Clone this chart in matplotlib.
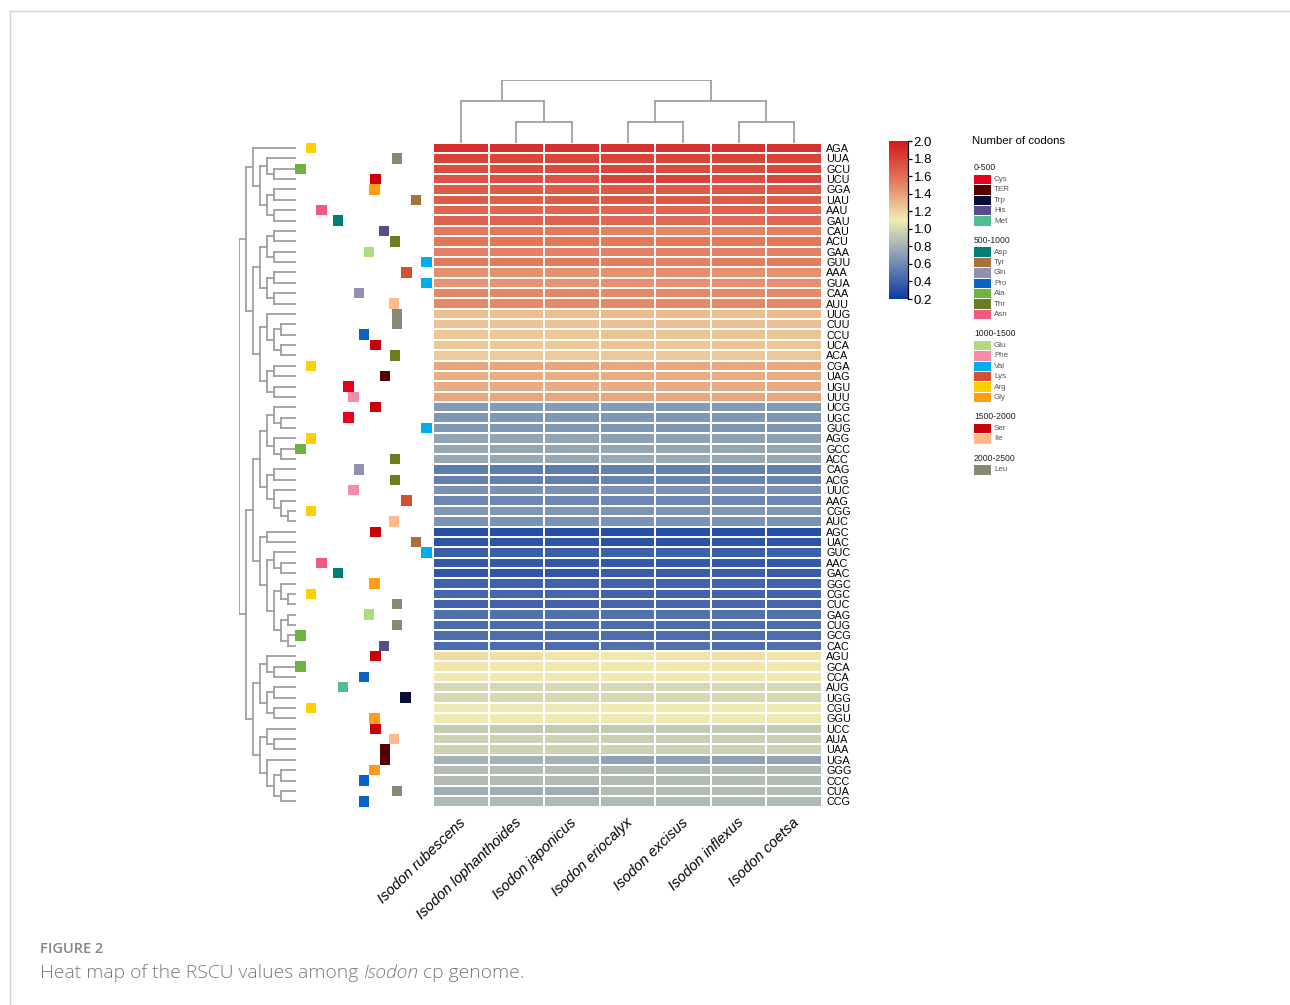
import matplotlib
matplotlib.use("Agg")
import matplotlib.pyplot as plt
import numpy as np
from matplotlib.colors import LinearSegmentedColormap, Normalize
from matplotlib.patches import Rectangle
from matplotlib.collections import LineCollection
from matplotlib.lines import Line2D

plt.rcParams['font.family'] = ['Liberation Sans', 'DejaVu Sans']

# ---------------- data ----------------
species = ["Isodon rubescens", "Isodon lophanthoides", "Isodon japonicus",
           "Isodon eriocalyx", "Isodon excisus", "Isodon inflexus", "Isodon coetsa"]

codons = ["AGA", "UUA", "GCU", "UCU", "GGA", "UAU", "AAU", "GAU", "CAU", "ACU",
          "GAA", "GUU", "AAA", "GUA", "CAA", "AUU", "UUG", "CUU", "CCU", "UCA",
          "ACA", "CGA", "UAG", "UGU", "UUU", "UCG", "UGC", "GUG", "AGG", "GCC",
          "ACC", "CAG", "ACG", "UUC", "AAG", "CGG", "AUC", "AGC", "UAC", "GUC",
          "AAC", "GAC", "GGC", "CGC", "CUC", "GAG", "CUG", "GCG", "CAC", "AGU",
          "GCA", "CCA", "AUG", "UGG", "CGU", "GGU", "UCC", "AUA", "UAA", "UGA",
          "GGG", "CCC", "CUA", "CCG"]

amino_acids = ["Arg", "Leu", "Ala", "Ser", "Gly", "Tyr", "Asn", "Asp", "His", "Thr",
               "Glu", "Val", "Lys", "Val", "Gln", "Ile", "Leu", "Leu", "Pro", "Ser",
               "Thr", "Arg", "TER", "Cys", "Phe", "Ser", "Cys", "Val", "Arg", "Ala",
               "Thr", "Gln", "Thr", "Phe", "Lys", "Arg", "Ile", "Ser", "Tyr", "Val",
               "Asn", "Asp", "Gly", "Arg", "Leu", "Glu", "Leu", "Ala", "His", "Ser",
               "Ala", "Pro", "Met", "Trp", "Arg", "Gly", "Ser", "Ile", "TER", "TER",
               "Gly", "Pro", "Leu", "Pro"]

rscu = [
    [1.90, 1.89, 1.89, 1.88, 1.88, 1.88, 1.88],
    [1.80, 1.79, 1.79, 1.80, 1.80, 1.80, 1.80],
    [1.76, 1.77, 1.77, 1.79, 1.77, 1.77, 1.78],
    [1.73, 1.74, 1.73, 1.80, 1.80, 1.76, 1.79],
    [1.68, 1.68, 1.68, 1.70, 1.69, 1.70, 1.70],
    [1.69, 1.67, 1.68, 1.70, 1.70, 1.68, 1.69],
    [1.64, 1.64, 1.64, 1.64, 1.64, 1.65, 1.64],
    [1.66, 1.65, 1.66, 1.63, 1.62, 1.62, 1.63],
    [1.55, 1.55, 1.55, 1.52, 1.50, 1.52, 1.53],
    [1.57, 1.57, 1.56, 1.55, 1.55, 1.55, 1.56],
    [1.52, 1.52, 1.52, 1.51, 1.51, 1.52, 1.51],
    [1.55, 1.55, 1.55, 1.53, 1.52, 1.53, 1.53],
    [1.46, 1.46, 1.46, 1.46, 1.47, 1.46, 1.46],
    [1.45, 1.45, 1.45, 1.46, 1.46, 1.46, 1.46],
    [1.50, 1.50, 1.50, 1.49, 1.49, 1.49, 1.49],
    [1.49, 1.49, 1.49, 1.49, 1.49, 1.49, 1.49],
    [1.28, 1.28, 1.28, 1.29, 1.29, 1.28, 1.29],
    [1.26, 1.26, 1.26, 1.27, 1.27, 1.27, 1.27],
    [1.25, 1.25, 1.25, 1.26, 1.26, 1.26, 1.26],
    [1.24, 1.24, 1.24, 1.26, 1.25, 1.26, 1.25],
    [1.23, 1.23, 1.23, 1.24, 1.24, 1.24, 1.24],
    [1.38, 1.38, 1.38, 1.37, 1.37, 1.37, 1.37],
    [1.35, 1.35, 1.35, 1.36, 1.36, 1.36, 1.36],
    [1.36, 1.36, 1.36, 1.36, 1.36, 1.36, 1.36],
    [1.38, 1.38, 1.38, 1.38, 1.38, 1.38, 1.38],
    [0.68, 0.68, 0.68, 0.68, 0.68, 0.68, 0.68],
    [0.66, 0.66, 0.66, 0.66, 0.66, 0.66, 0.66],
    [0.67, 0.67, 0.67, 0.66, 0.66, 0.66, 0.66],
    [0.73, 0.73, 0.73, 0.71, 0.72, 0.72, 0.72],
    [0.75, 0.74, 0.74, 0.74, 0.74, 0.74, 0.74],
    [0.75, 0.75, 0.75, 0.76, 0.76, 0.75, 0.75],
    [0.53, 0.53, 0.53, 0.55, 0.55, 0.55, 0.55],
    [0.55, 0.55, 0.55, 0.56, 0.56, 0.56, 0.56],
    [0.64, 0.64, 0.64, 0.63, 0.63, 0.63, 0.63],
    [0.58, 0.58, 0.58, 0.58, 0.58, 0.58, 0.58],
    [0.66, 0.66, 0.66, 0.65, 0.65, 0.66, 0.66],
    [0.64, 0.64, 0.64, 0.64, 0.64, 0.64, 0.64],
    [0.30, 0.30, 0.30, 0.30, 0.30, 0.30, 0.30],
    [0.34, 0.33, 0.33, 0.32, 0.32, 0.33, 0.33],
    [0.38, 0.38, 0.38, 0.39, 0.39, 0.38, 0.39],
    [0.36, 0.36, 0.36, 0.36, 0.36, 0.35, 0.36],
    [0.34, 0.34, 0.34, 0.37, 0.37, 0.38, 0.37],
    [0.40, 0.40, 0.40, 0.41, 0.41, 0.41, 0.41],
    [0.42, 0.42, 0.42, 0.41, 0.41, 0.41, 0.41],
    [0.41, 0.41, 0.41, 0.42, 0.42, 0.42, 0.42],
    [0.47, 0.47, 0.47, 0.48, 0.48, 0.48, 0.48],
    [0.45, 0.45, 0.45, 0.46, 0.46, 0.46, 0.46],
    [0.46, 0.46, 0.46, 0.46, 0.46, 0.46, 0.46],
    [0.45, 0.45, 0.45, 0.48, 0.48, 0.46, 0.47],
    [1.17, 1.15, 1.13, 1.12, 1.13, 1.16, 1.13],
    [1.13, 1.12, 1.12, 1.12, 1.12, 1.13, 1.12],
    [1.12, 1.12, 1.12, 1.11, 1.11, 1.12, 1.11],
    [1.00, 1.00, 1.00, 1.00, 1.00, 1.00, 1.00],
    [1.00, 1.00, 1.00, 1.00, 1.00, 1.00, 1.00],
    [1.08, 1.08, 1.08, 1.10, 1.09, 1.09, 1.09],
    [1.09, 1.09, 1.09, 1.08, 1.08, 1.08, 1.08],
    [0.93, 0.93, 0.93, 0.92, 0.92, 0.92, 0.92],
    [0.96, 0.96, 0.96, 0.95, 0.95, 0.95, 0.95],
    [0.97, 0.97, 0.97, 0.96, 0.96, 0.96, 0.96],
    [0.80, 0.80, 0.80, 0.72, 0.72, 0.72, 0.73],
    [0.86, 0.86, 0.86, 0.84, 0.84, 0.84, 0.84],
    [0.85, 0.85, 0.85, 0.86, 0.86, 0.86, 0.86],
    [0.78, 0.78, 0.78, 0.85, 0.85, 0.85, 0.85],
    [0.84, 0.84, 0.84, 0.84, 0.84, 0.84, 0.84],
]

# row clustering tree (indices into codons)
row_tree = (
    ((0, ((1, (2, 3)), ((4, 5), (6, 7)))),
     ((((8, 9), (10, 11)), ((12, 13), (14, 15))),
      ((16, ((17, 18), (19, 20))), ((21, 22), (23, 24))))),
    (((((25, (26, 27)), (28, (29, 30))),
       ((31, 32), (33, (34, (35, 36))))),
      ((37, 38), ((39, (40, 41)), ((42, (43, 44)), ((45, 46), (47, 48)))))),
     (((49, (50, 51)), ((52, 53), (54, 55))),
      ((56, (57, 58)), (59, ((60, 61), (62, 63))))))
)
# column clustering tree (indices into species)
col_tree = ((0, (1, 2)), ((3, 4), (5, 6)))

# amino-acid annotation track value
track_aa = ["Ala", "Arg", "Asn", "Asp", "Met", "Cys", "Phe", "Gln", "Pro", "Glu", "Gly",
            "Ser", "His", "TER", "Ile", "Thr", "Leu", "Trp", "Lys", "Tyr", "Val"]
track_val = [0.0, 1.0, 2.0, 3.6, 4.1, 4.6, 5.1, 5.6, 6.1, 6.6, 7.1,
             7.2, 8.0, 8.1, 9.0, 9.1, 9.25, 10.1, 10.2, 11.1, 12.1]

group_names = ["0-500", "500-1000", "1000-1500", "1500-2000", "2000-2500"]
group_members = [["Cys", "TER", "Trp", "His", "Met"],
                 ["Asp", "Tyr", "Gln", "Pro", "Ala", "Thr", "Asn"],
                 ["Glu", "Phe", "Val", "Lys", "Arg", "Gly"],
                 ["Ser", "Ile"],
                 ["Leu"]]

# ---------------- styles ----------------
aa_color = {
    "Cys": "#E8001C", "TER": "#560000", "Trp": "#0A0F3A", "His": "#5C4A8A", "Met": "#4FBF8F",
    "Asp": "#007F78", "Tyr": "#A8703A", "Gln": "#9090B0", "Pro": "#0A64C8", "Ala": "#6DB33F",
    "Thr": "#6A7D20", "Asn": "#F05A80", "Glu": "#B0DC80", "Phe": "#F58CA8", "Val": "#00AEEF",
    "Lys": "#D45030", "Arg": "#FFD000", "Gly": "#FF9E16", "Ser": "#C8000A", "Ile": "#FFB98A",
    "Leu": "#868A72",
}
vmin, vmax = 0.2, 2.0
stops = [(0.2, "#0E3AA3"), (0.65, "#7D95B5"), (1.1, "#F2ECB2"), (1.55, "#E27A5E"), (2.0, "#D2191C")]
cmap = LinearSegmentedColormap.from_list(
    "rscu", [((v - vmin) / (vmax - vmin), c) for v, c in stops])
norm = Normalize(vmin, vmax)
DENDRO_C = "#A0A0A0"

W, H = 1290, 1005
fig = plt.figure(figsize=(W / 100, H / 100), dpi=100)


def ax_px(x0, y0, x1, y1):
    a = fig.add_axes([x0 / W, 1 - y1 / H, (x1 - x0) / W, (y1 - y0) / H])
    a.patch.set_alpha(0)
    return a


HX0, HX1, HY0, HY1 = 433, 822, 142.8, 806.5
nrow, ncol = len(codons), len(species)

# ---------------- heatmap ----------------
ax = ax_px(HX0, HY0, HX1, HY1)
data = np.array(rscu)
ax.pcolormesh(np.arange(ncol + 1), np.arange(nrow + 1), data, cmap=cmap, norm=norm,
              edgecolors="white", linewidth=1.3)
ax.set_xlim(0, ncol)
ax.set_ylim(nrow, 0)
for s in ax.spines.values():
    s.set_visible(False)
ax.yaxis.tick_right()
ax.set_yticks(np.arange(nrow) + 0.5)
ax.set_yticklabels(codons, fontsize=7.8)
ax.tick_params(axis="y", length=0, pad=3)
ax.set_xticks([])
for i, name in enumerate(species):
    ax.annotate(name, xy=(i + 0.5, nrow), xycoords="data", xytext=(-1.5, -6.5),
                textcoords="offset points", rotation=44, ha="right", va="top",
                rotation_mode="anchor", fontsize=10.5, fontstyle="italic")


# ---------------- dendrograms ----------------
def layout(node, depth, segs, maxdepth, horizontal):
    if isinstance(node, int):
        return node + 0.5, maxdepth
    cs = []
    for child in node:
        c, d = layout(child, depth + 1, segs, maxdepth, horizontal)
        if horizontal:
            segs.append([(depth, c), (d, c)])
        else:
            segs.append([(c, depth), (c, d)])
        cs.append(c)
    if horizontal:
        segs.append([(depth, min(cs)), (depth, max(cs))])
    else:
        segs.append([(min(cs), depth), (max(cs), depth)])
    return float(np.mean(cs)), depth


# row dendrogram
axr = ax_px(239.3, HY0, 295.5, HY1)
segs = []
layout(row_tree, 0, segs, 8, True)
axr.add_collection(LineCollection(segs, colors=DENDRO_C, linewidths=1.3, capstyle="projecting"))
axr.set_xlim(0, 8)
axr.set_ylim(nrow, 0)
axr.axis("off")

# column dendrogram
axc = ax_px(HX0, 80, HX1, 143)
segs = []
layout(col_tree, 0, segs, 3, False)
axc.add_collection(LineCollection(segs, colors=DENDRO_C, linewidths=1.3, capstyle="projecting"))
axc.set_xlim(0, ncol)
axc.set_ylim(3, 0)
axc.axis("off")

# ---------------- amino-acid annotation squares ----------------
SQ_X0, SQ_STEP = 300.5, 10.4
axa = ax_px(290, HY0, 433, HY1)
axa.set_xlim((290 - SQ_X0) / SQ_STEP, (433 - SQ_X0) / SQ_STEP)
axa.set_ylim(nrow, 0)
axa.axis("off")
track = dict(zip(track_aa, track_val))
for i, aa in enumerate(amino_acids):
    v = track[aa]
    axa.add_patch(Rectangle((v - 0.5, i), 1.0, 1.0, facecolor=aa_color[aa], edgecolor="none"))

# ---------------- colorbar ----------------
axb = ax_px(889, 141, 908, 299)
grad = np.linspace(vmin, vmax, 256).reshape(-1, 1)
axb.imshow(grad, cmap=cmap, norm=norm, aspect="auto", origin="lower",
           extent=[0, 1, vmin, vmax])
axb.set_ylim(vmin, vmax)
axb.set_xticks([])
for k in ["top", "left", "bottom"]:
    axb.spines[k].set_visible(False)
axb.spines["right"].set_linewidth(0.9)
axb.yaxis.tick_right()
ticks = np.round(np.arange(0.2, 2.01, 0.2), 1)
axb.set_yticks(ticks)
axb.set_yticklabels([f"{t:.1f}" for t in ticks], fontsize=9.5)
axb.tick_params(axis="y", length=3, width=0.9, pad=1)

# ---------------- legend ----------------
leg = ax_px(960, 120, 1110, 490)
leg.set_xlim(960, 1110)
leg.set_ylim(490, 120)
leg.axis("off")
leg.text(972, 141, "Number of codons", fontsize=8.2, va="center", ha="left")
y = 168
for g, members in zip(group_names, group_members):
    leg.text(974, y, g, fontsize=6.2, va="center", ha="left", color="#222222")
    y += 11.5
    for m in members:
        leg.add_patch(Rectangle((974, y - 4.7), 17, 9.4, facecolor=aa_color[m], edgecolor="none"))
        leg.text(994, y, m, fontsize=5.8, va="center", ha="left", color="#555555")
        y += 10.4
    y += 19.5 - 10.4

# ---------------- frame & caption ----------------
fig.add_artist(Line2D([10 / W, 1], [1 - 11 / H, 1 - 11 / H], color="#d4d4d4", lw=1))
fig.add_artist(Line2D([10 / W, 10 / W], [1 - 11 / H, 0], color="#d4d4d4", lw=1))

cap_font = ["Open Sans", "DejaVu Sans"]
fig.text(40 / W, 1 - 953 / H, "FIGURE 2", fontsize=10.5, color="#858585",
         family=cap_font, weight="semibold", va="baseline")
renderer = fig.canvas.get_renderer()
t1 = fig.text(40 / W, 1 - 978 / H, "Heat map of the RSCU values among", fontsize=13.9,
              color="#7a7a7a", family=cap_font, weight="light", va="baseline")
x1 = t1.get_window_extent(renderer).x1 + 5
t2 = fig.text(x1 / W, 1 - 978 / H, "Isodon", fontsize=13.9, color="#7a7a7a",
              family=cap_font, weight="light", style="italic", va="baseline")
x2 = t2.get_window_extent(renderer).x1 + 5
fig.text(x2 / W, 1 - 978 / H, "cp genome.", fontsize=13.9, color="#7a7a7a",
         family=cap_font, weight="light", va="baseline")

fig.savefig("out.png", dpi=100, facecolor="white")
